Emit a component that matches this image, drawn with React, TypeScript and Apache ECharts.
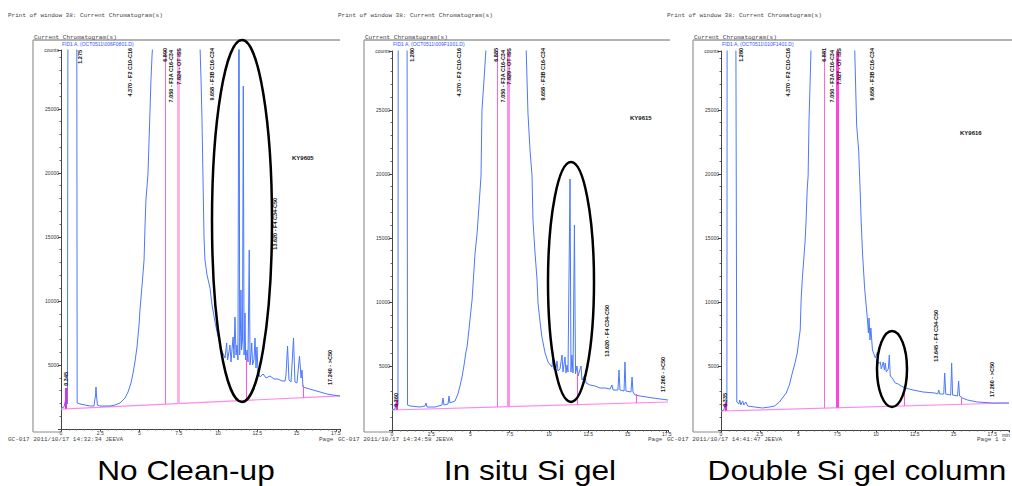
import React, { useEffect, useRef } from "react";
import * as echarts from "echarts";

const OFF = 40000; // off-scale (clipped at top of plot)

// ---- Chromatogram traces: [retention time (min), counts] ----
const trace1: number[][] = [
  [0, 1640], [0.19, 1718], [0.29, 2265], [0.32, 3202], [0.35, 2109], [0.41, 1953], [0.45, OFF], [1.0, OFF],
  [1.03, 2031], [1.21, 1953], [1.85, 1796], [2.1, 1796], [2.2, 2655], [2.23, 3280], [2.26, 2655], [2.32, 1874],
  [2.48, 1796], [3.12, 1796], [3.44, 1874], [3.76, 2031], [4.08, 2421], [4.27, 2890], [4.46, 3593], [4.59, 4374],
  [4.71, 5233], [4.84, 6404], [4.97, 8122], [5.03, 9294], [5.1, 10309], [5.19, 11637], [5.29, 13199], [5.35, 15776],
  [5.41, 17885], [5.54, 19916], [5.61, 22571], [5.67, 24914], [5.73, 27257], [5.8, 29209], [5.86, 30381], [5.9, OFF],
  [8.8, OFF], [8.85, 30000], [8.92, 27257], [8.98, 24133], [9.04, 19916], [9.11, 14917], [9.17, 13199], [9.3, 12027],
  [9.49, 11012], [9.62, 9684], [9.81, 8357], [9.94, 7576], [10.13, 6560], [10.25, 6092], [10.45, 5545], [10.55, 6717],
  [10.61, 5389], [10.7, 6014], [10.76, 6560], [10.83, 5233], [10.89, 6170], [10.96, 7185], [11.02, 5545], [11.08, 8747],
  [11.15, 5779], [11.21, 6560], [11.27, 5389], [11.34, OFF], [11.38, 5779], [11.43, 7732], [11.46, 10856], [11.5, 6170],
  [11.56, 6951], [11.61, 26788], [11.66, 5779], [11.72, 9060], [11.76, 5389], [11.85, 6170], [11.91, 5233], [11.99, 13980],
  [12.04, 4998], [12.1, 5779], [12.15, 6717], [12.2, 4998], [12.29, 5389], [12.36, 7107], [12.42, 4764], [12.48, 6404],
  [12.55, 4452], [12.68, 4061], [12.87, 4296], [13.06, 3983], [13.31, 4139], [13.57, 3905], [13.82, 3905], [14.08, 3749],
  [14.27, 3749], [14.33, 4217], [14.43, 6482], [14.52, 3827], [14.65, 3671], [14.81, 7107], [14.9, 3671], [15.03, 3593],
  [15.19, 5701], [15.29, 3983], [15.35, 4608], [15.41, 3280], [15.61, 3202], [16.05, 3046], [16.5, 2890], [16.94, 2734],
  [17.32, 2655], [17.77, 2577],
];

const trace2: number[][] = [
  [0, 1562], [0.19, 1640], [0.29, 2343], [0.32, 1953], [0.38, 1953], [0.4, OFF], [0.95, OFF], [0.99, 1953],
  [1.15, 1874], [1.78, 1796], [2.1, 1874], [2.17, 2109], [2.23, 1796], [2.74, 1796], [3.18, 1953], [3.25, 2499],
  [3.31, 1953], [3.57, 2031], [3.63, 2655], [3.69, 2109], [4.01, 2265], [4.2, 2812], [4.33, 3436], [4.46, 4139],
  [4.59, 5077], [4.71, 6092], [4.78, 6482], [4.9, 7810], [5.03, 9372], [5.1, 10153], [5.16, 11325], [5.29, 13824],
  [5.41, 15230], [5.48, 16401], [5.61, 18744], [5.67, 19837], [5.73, 24992], [5.86, 27335], [5.99, 29834], [6.05, 30381],
  [6.1, OFF], [8.5, OFF], [8.54, 30000], [8.66, 24758], [8.79, 21868], [8.92, 19837], [8.98, 16401], [9.11, 13824],
  [9.24, 11715], [9.3, 9919], [9.43, 8435], [9.55, 7263], [9.75, 6014], [9.94, 5311], [10.19, 4920], [10.25, 5623],
  [10.32, 4686], [10.45, 4842], [10.51, 5389], [10.57, 4608], [10.7, 4764], [10.83, 5858], [10.89, 4530], [11.02, 5701],
  [11.08, 4452], [11.15, 5077], [11.21, 4530], [11.34, 19603], [11.4, 4530], [11.46, 5858], [11.53, 4452], [11.62, 16011],
  [11.69, 4374], [11.78, 4998], [11.85, 4217], [12.04, 4998], [12.1, 3905], [12.29, 4296], [12.36, 3671], [12.61, 3515],
  [12.93, 3436], [13.25, 3280], [13.57, 3280], [13.89, 3202], [14.01, 3515], [14.08, 3124], [14.39, 3124], [14.46, 4686],
  [14.52, 3124], [14.78, 3046], [14.84, 5311], [14.9, 3046], [15.22, 2968], [15.29, 4139], [15.35, 2968], [15.48, 2734],
  [15.8, 2655], [16.62, 2499], [17.58, 2343],
];

const trace3: number[][] = [
  [0, 1484], [0.19, 1562], [0.29, 2187], [0.32, 1718], [0.38, 1874], [0.4, OFF], [0.94, OFF], [1.02, 2187],
  [1.15, 2031], [1.21, 2343], [1.28, 1953], [1.4, 2265], [1.47, 1953], [1.6, 2187], [1.72, 1874], [2.17, 1796],
  [2.68, 1718], [3.13, 1796], [3.45, 1874], [3.77, 2187], [3.96, 2499], [4.21, 2890], [4.41, 3515], [4.6, 4452],
  [4.79, 5311], [4.92, 6014], [5.04, 7185], [5.11, 7810], [5.17, 10153], [5.24, 11715], [5.36, 13668], [5.43, 14839],
  [5.49, 16401], [5.56, 18744], [5.62, 19837], [5.68, 24211], [5.81, 29834], [5.87, 30459], [5.9, OFF], [8.58, OFF],
  [8.62, 30069], [8.75, 23821], [8.88, 21868], [9.0, 17963], [9.04, 16401], [9.13, 13824], [9.26, 11168], [9.45, 8591],
  [9.51, 7576], [9.55, 8747], [9.61, 7029], [9.67, 7966], [9.77, 6248], [9.96, 5623], [10.09, 6092], [10.15, 5155],
  [10.28, 5311], [10.34, 4764], [10.47, 5311], [10.54, 4686], [10.6, 5233], [10.66, 4530], [10.79, 4764], [10.86, 5858],
  [10.92, 4217], [11.05, 4061], [11.24, 3671], [11.43, 3593], [11.62, 3436], [11.88, 3280], [12.39, 3124], [13.03, 2968],
  [13.79, 2890], [13.98, 2812], [14.05, 3124], [14.11, 2812], [14.37, 2812], [14.43, 4452], [14.5, 2812], [14.82, 2734],
  [14.88, 5233], [14.94, 2734], [15.26, 2655], [15.33, 3827], [15.39, 2655], [15.58, 2499], [15.9, 2343], [16.54, 2187],
  [17.5, 2109], [18.58, 2109],
];

// ---- Integration baselines ----
const base1: number[][] = [[0, 1560], [17.77, 2580]];
const base2: number[][] = [[0, 1562], [17.58, 2187]];
const base3: number[][] = [[0, 1484], [18.58, 2109]];

// ---- Event lines: full-height (thin, thick) and drop lines [time, top counts] ----
const fullLines1 = [6.66, 7.45];
const fullLines2 = [6.69, 7.39];
const fullLines3 = [6.64, 7.47];
const drops1: number[][] = [[0.3, 3200], [11.8, 5600], [15.4, 3440]];
const drops2: number[][] = [[0.29, 2343], [11.78, 4500], [15.54, 2812]];
const drops3: number[][] = [[0.29, 2187], [11.81, 3300], [15.52, 2500]];

// ---- Texts ----
const peakLabels1 = ["1.275", "4.370 - F2 C10-C16", "6.890", "7.050 - F3A C16-C34", "7.824 - OT ISS", "9.658 - F3B C16-C34", "13.620 - F4 C34-C50", "17.240 - >C50", "0.345"];
const peakLabels2 = ["1.280", "4.370 - F2 C10-C16", "6.885", "7.050 - F3A C16-C34", "7.829 - OT ISS", "9.658 - F3B C16-C34", "13.620 - F4 C34-C50", "17.260 - >C50", "0.360"];
const peakLabels3 = ["1.280", "4.370 - F2 C10-C16", "6.881", "7.050 - F3A C16-C34", "7.827 - OT ISS", "9.658 - F3B C16-C34", "13.645 - F4 C34-C50", "17.260 - >C50", "0.335"];
const sampleNames = ["KY9605", "KY9615", "KY9616"];
const fileNames = ["FID1 A, (OCT0511\\006F0801.D)", "FID1 A, (OCT0511\\009F1001.D)", "FID1 A, (OCT0511\\010F1401.D)"];
const footers = ["GC-017 2011/10/17 14:32:34 JEEVA", "GC-017 2011/10/17 14:34:58 JEEVA", "GC-017 2011/10/17 14:41:47 JEEVA"];
const pageTexts = ["Page", "Page", "Page 1 o"];
const captions = ["No Clean-up", "In situ Si gel", "Double Si gel column"];
const headerText = "Print of window 38: Current Chromatogram(s)";
const frameTitle = "Current Chromatogram(s)";

// ---- Layout ----
const Y_MAX = 29600;
const panels = [
  { left: 61, top: 50, width: 279, height: 379, xMax: 17.77, frameX: 33, frameR: 340, headX: 8, footPageX: 319,
    labelPos: [[80, 50], [130, 48], [165, 48], [171, 50], [179, 48], [212, 48], [275, 198], [330, 350], [66, 372]],
    ky: [292, 158], ell: [242, 221, 30, 181], thick: "#ffb0f0", thin: "#ff66dd" },
  { left: 392, top: 51, width: 276, height: 379, xMax: 17.58, frameX: 364, frameR: 670, headX: 338, footPageX: 648,
    labelPos: [[412, 48], [459, 48], [496, 48], [503, 50], [509, 48], [543, 48], [607, 305], [663, 357], [396, 393]],
    ky: [630, 118], ell: [571, 282, 23, 120], thick: "#ff90ec", thin: "#ff66dd" },
  { left: 721, top: 51, width: 291, height: 379, xMax: 18.58, frameX: 693, frameR: 1012, headX: 667, footPageX: 977,
    labelPos: [[741, 48], [788, 48], [824, 48], [832, 50], [839, 48], [872, 48], [936, 310], [992, 362], [725, 393]],
    ky: [960, 133], ell: [892, 369, 15, 38], thick: "#ff44dd", thin: "#ff66dd" },
];

const traces = [trace1, trace2, trace3];
const bases = [base1, base2, base3];
const fulls = [fullLines1, fullLines2, fullLines3];
const dropsAll = [drops1, drops2, drops3];
const labelsAll = [peakLabels1, peakLabels2, peakLabels3];

function baseAt(base: number[][], t: number) {
  const [a, b] = base;
  return a[1] + ((b[1] - a[1]) * (t - a[0])) / (b[0] - a[0]);
}

function buildOption() {
  const grid: any[] = [];
  const xAxis: any[] = [];
  const yAxis: any[] = [];
  const series: any[] = [];
  const graphic: any[] = [];
  const mono = "'Liberation Mono', monospace";
  const sans = "'Liberation Sans', Arial, sans-serif";

  panels.forEach((p, i) => {
    grid.push({ left: p.left, top: p.top, width: p.width, height: p.height, containLabel: false });
    xAxis.push({
      type: "value", gridIndex: i, min: 0, max: p.xMax, interval: 2.5,
      axisLine: { show: true, onZero: false, lineStyle: { color: "#444", width: 1 } },
      axisTick: { show: true, length: 2.5, lineStyle: { color: "#444" } },
      minorTick: { show: true, splitNumber: 5, length: 1.5, lineStyle: { color: "#666" } },
      splitLine: { show: false },
      axisLabel: {
        fontSize: 5, margin: 1, color: "#333", fontFamily: sans,
        formatter: (v: number) => { const k = v / 2.5; return Math.abs(k - Math.round(k)) < 1e-6 ? String(v) : ""; },
      },
    });
    yAxis.push({
      type: "value", gridIndex: i, min: 0, max: Y_MAX, interval: 5000,
      axisLine: { show: true, lineStyle: { color: "#444", width: 1 } },
      axisTick: { show: true, length: 3, lineStyle: { color: "#444" } },
      minorTick: { show: true, splitNumber: 5, length: 1.5, lineStyle: { color: "#666" } },
      splitLine: { show: false },
      axisLabel: {
        fontSize: 5, margin: 2, color: "#333", fontFamily: sans,
        formatter: (v: number) => (v > 26000 ? "counts" : v === 0 ? "" : String(v)),
      },
    });

    const base = bases[i];
    const mlData: any[] = [];
    fulls[i].forEach((t, j) => {
      mlData.push([
        { coord: [t, baseAt(base, t)], lineStyle: { color: j === 0 ? p.thin : p.thick, width: j === 0 ? 1 : 3, type: "solid" } },
        { coord: [t, Y_MAX] },
      ]);
    });
    dropsAll[i].forEach((d, j) => {
      mlData.push([
        { coord: [d[0], baseAt(base, d[0])], lineStyle: { color: j === 0 ? "#ff22cc" : "#ff55dd", width: j === 0 ? 2 : 1, type: "solid" } },
        { coord: [d[0], d[1]] },
      ]);
    });

    series.push({
      type: "line", xAxisIndex: i, yAxisIndex: i, data: base, symbol: "none", silent: true, z: 2,
      lineStyle: { color: "#ff88ee", width: 1.2 },
      markLine: { symbol: ["none", "none"], silent: true, label: { show: false }, animation: false, data: mlData },
    });
    series.push({
      type: "line", xAxisIndex: i, yAxisIndex: i, data: traces[i], symbol: "none", silent: true, z: 3, clip: true,
      lineStyle: { color: "#4a78ff", width: 1 },
    });

    // frame
    const fs = { stroke: "#8a8a8a", lineWidth: 1 };
    graphic.push({ type: "line", shape: { x1: p.frameX, y1: 40, x2: p.frameR, y2: 40 }, style: { stroke: "#666", lineWidth: 1 } });
    graphic.push({ type: "line", shape: { x1: p.frameX, y1: 40, x2: p.frameX, y2: 432 }, style: { stroke: "#aaa", lineWidth: 1.5 } });
    graphic.push({ type: "line", shape: { x1: p.frameX, y1: 432, x2: p.left, y2: 432 }, style: fs });
    // header / titles
    graphic.push({ type: "text", x: p.headX, y: 15, style: { text: headerText, fontSize: 6, fontFamily: mono, fill: "#444", verticalAlign: "middle" } });
    graphic.push({ type: "text", x: p.frameX + 1, y: 37, style: { text: frameTitle, fontSize: 6, fontFamily: mono, fill: "#444", verticalAlign: "middle" } });
    graphic.push({ type: "text", x: p.left + 1, y: 43.5, style: { text: fileNames[i], fontSize: 5, fontFamily: sans, fill: "#3355ff", verticalAlign: "middle" } });
    // footer
    graphic.push({ type: "text", x: p.headX, y: 439.5, style: { text: footers[i], fontSize: 6, fontFamily: mono, fill: "#444", verticalAlign: "middle" } });
    graphic.push({ type: "text", x: p.footPageX, y: 439.5, style: { text: pageTexts[i], fontSize: 6, fontFamily: mono, fill: "#444", verticalAlign: "middle" } });
    // peak labels (rotated)
    labelsAll[i].forEach((txt, j) => {
      const [lx, ly] = p.labelPos[j];
      graphic.push({
        type: "text", x: lx, y: ly, rotation: Math.PI / 2, z: 110,
        style: { text: txt, fontSize: 5.5, fontWeight: "bold", fontFamily: sans, fill: "#111", align: "right", verticalAlign: "middle" },
      });
    });
    graphic.push({ type: "text", x: p.ky[0], y: p.ky[1], style: { text: sampleNames[i], fontSize: 6, fontWeight: "bold", fontFamily: sans, fill: "#111", verticalAlign: "middle" } });
    // highlight ellipse
    graphic.push({
      type: "ellipse", z: 100,
      shape: { cx: p.ell[0], cy: p.ell[1], rx: p.ell[2], ry: p.ell[3] },
      style: { fill: "none", stroke: "#000", lineWidth: 2.5 },
    });
  });

  graphic.push({ type: "text", x: 1006, y: 432.5, style: { text: "min", fontSize: 5, fontFamily: sans, fill: "#333", align: "center", verticalAlign: "top" } });

  const capX = [186, 530, 857];
  captions.forEach((c, i) => {
    graphic.push({
      type: "text", x: capX[i], y: 470, scaleX: 1.13, scaleY: 1,
      style: { text: c, fontSize: 28, fontFamily: sans, fill: "#000", align: "center", verticalAlign: "middle" },
    });
  });

  return { animation: false, backgroundColor: "#fff", grid, xAxis, yAxis, series, graphic };
}

export default function App() {
  const ref = useRef<HTMLDivElement>(null);
  useEffect(() => {
    if (!ref.current) return;
    const chart = echarts.init(ref.current, null, { renderer: "svg" });
    chart.setOption(buildOption() as any);
    return () => chart.dispose();
  }, []);
  return <div ref={ref} style={{ position: "fixed", left: 0, top: 0, width: 1012, height: 486, background: "#fff" }} />;
}
